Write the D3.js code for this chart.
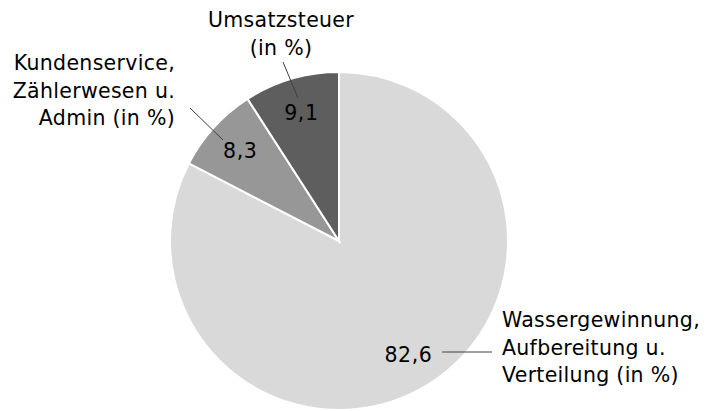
<!DOCTYPE html>
<html>
<head>
<meta charset="utf-8">
<script src="https://cdn.jsdelivr.net/npm/d3@7"></script>
<style>
  body { margin: 0; background: #fff; }
  text { font-family: "DejaVu Sans", Verdana, sans-serif; fill: #000; }
</style>
</head>
<body>
<div id="chart"></div>
<script>
// Data
var categories = [
	['Wassergewinnung,', 'Aufbereitung u.', 'Verteilung (in %)'],
	['Kundenservice,', 'Zählerwesen u.', 'Admin (in %)'],
	['Umsatzsteuer', '(in %)']
];
var values = [82.6, 8.3, 9.1];
var valueLabels = ['82,6', '8,3', '9,1'];
var colors = ['#d9d9d9', '#979797', '#5e5e5e'];

var width = 715, height = 411;
var cx = 339, cy = 241, radius = 169;
var fontSize = 20.5, lineH = 27.5;

// Placement of the category text and leader lines (layout only)
var outer = [
	{ x: 502, y: 327, anchor: 'start', line: [[442, 352], [492, 352]] },
	{ x: 175, y: 70, anchor: 'end', line: [[223, 140], [190, 108]] },
	{ x: 281, y: 27, anchor: 'middle', line: [[298, 98], [283, 62]] }
];

var svg = d3.select('#chart').append('svg')
	.attr('width', width)
	.attr('height', height);

var g = svg.append('g')
	.attr('transform', 'translate(' + cx + ',' + cy + ')');

var pie = d3.pie().sort(null).value(function(d) { return d; });
var arc = d3.arc().innerRadius(0).outerRadius(radius);
var labelArc = d3.arc().innerRadius(radius * 0.79).outerRadius(radius * 0.79);

var arcs = pie(values);

g.selectAll('path.slice')
	.data(arcs)
	.enter().append('path')
	.attr('class', 'slice')
	.attr('d', arc)
	.attr('fill', function(d, i) { return colors[i]; })
	.attr('stroke', '#fff')
	.attr('stroke-width', 2);

// Value labels
g.selectAll('text.val')
	.data(arcs)
	.enter().append('text')
	.attr('class', 'val')
	.attr('x', function(d) { return labelArc.centroid(d)[0]; })
	.attr('y', function(d) { return labelArc.centroid(d)[1]; })
	.attr('dy', '0.35em')
	.attr('text-anchor', 'middle')
	.style('font-size', fontSize + 'px')
	.style('letter-spacing', '0.6px')
	.text(function(d, i) { return valueLabels[i]; });

// Leader lines
outer.forEach(function(o) {
	svg.append('line')
		.attr('x1', o.line[0][0]).attr('y1', o.line[0][1])
		.attr('x2', o.line[1][0]).attr('y2', o.line[1][1])
		.attr('stroke', '#404040')
		.attr('stroke-width', 1);
});

// Category labels
categories.forEach(function(lines, i) {
	var o = outer[i];
	var t = svg.append('text')
		.attr('text-anchor', o.anchor)
		.style('font-size', fontSize + 'px')
		.style('letter-spacing', '0.3px');
	lines.forEach(function(l, k) {
		t.append('tspan')
			.attr('x', o.x)
			.attr('y', o.y + k * lineH)
			.text(l);
	});
});
</script>
</body>
</html>
